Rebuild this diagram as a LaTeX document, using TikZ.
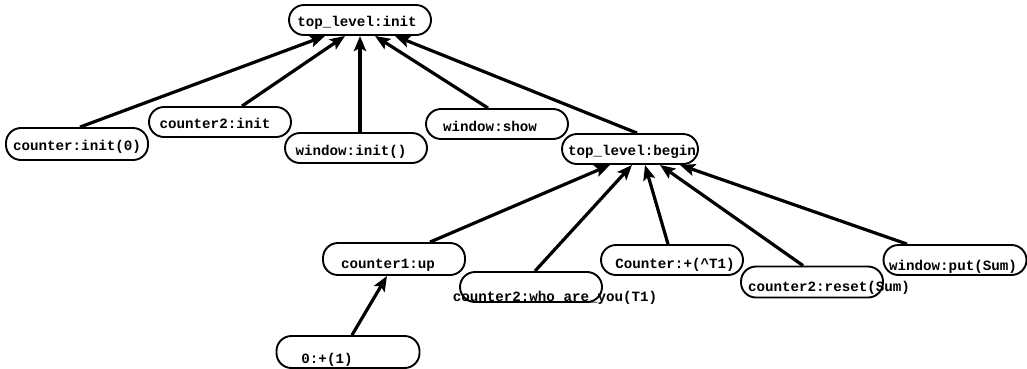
\documentclass[tikz,border=0pt]{standalone}
\usepackage{fontspec}
\newfontfamily\boxfont{Liberation Mono}
\usetikzlibrary{arrows.meta}
\tikzset{
  ovalbox/.style={draw, line width=1.9pt, rounded corners=15pt, minimum width=142pt, minimum height=30pt, inner sep=0pt},
  lbl/.style={inner sep=0pt, text height=10pt, text depth=3pt, font=\boxfont\bfseries\fontsize{14.2}{14}\selectfont},
  edge/.style={line width=3.2pt, -{Stealth[length=15pt,width=12pt,inset=3pt]}}
}
\begin{document}
\begin{tikzpicture}[x=1pt,y=-1pt]
\useasboundingbox (0,0) rectangle (1027,368);
% nodes
\node[ovalbox, label={[lbl,xshift=-3pt,yshift=-3pt]center:top\_level:init}] (tli) at (360,20) {};
\node[ovalbox, minimum height=32pt, label={[lbl,xshift=0pt,yshift=-3pt]center:counter:init(0)}] (ci0) at (77,144) {};
\node[ovalbox, label={[lbl,xshift=-5pt,yshift=-3pt]center:counter2:init}] (c2i) at (220,122) {};
\node[ovalbox, label={[lbl,xshift=-5pt,yshift=-4pt]center:window:init()}] (wi) at (356,148) {};
\node[ovalbox, label={[lbl,xshift=-7pt,yshift=-4pt]center:window:show}] (ws) at (497,124) {};
\node[ovalbox, minimum width=136pt, label={[lbl,xshift=2pt,yshift=-3pt]center:top\_level:begin}] (tlb) at (630,149) {};
\node[ovalbox, minimum height=32pt, label={[lbl,xshift=-6pt,yshift=-6pt]center:counter1:up}] (c1u) at (394,259) {};
\node[ovalbox, label={[lbl,xshift=24pt,yshift=-11pt]center:counter2:who\_are\_you(T1)}] (who) at (531,287) {};
\node[ovalbox, label={[lbl,xshift=3pt,yshift=-5pt]center:Counter:+(\textasciicircum T1)}] (cpt) at (672,260) {};
\node[ovalbox, minimum height=31pt, label={[lbl,xshift=17pt,yshift=-6pt]center:counter2:reset(Sum)}] (rst) at (812,282) {};
\node[ovalbox, minimum width=143pt, label={[lbl,xshift=-2pt,yshift=-7pt]center:window:put(Sum)}] (wp) at (955,260) {};
\node[ovalbox, minimum width=143pt, minimum height=32pt, label={[lbl,xshift=-21pt,yshift=-8pt]center:0:+(1)}] (zero) at (348,352) {};
% edges into top_level:init
\draw[edge] ([xshift=3pt]ci0.north) -- ([xshift=-35pt]tli.south);
\draw[edge] ([xshift=22pt]c2i.north) -- ([xshift=-15pt]tli.south);
\draw[edge] ([xshift=4pt]wi.north) -- ([xshift=0pt]tli.south);
\draw[edge] ([xshift=-9pt]ws.north) -- ([xshift=15pt]tli.south);
\draw[edge] ([xshift=7pt]tlb.north) -- ([xshift=35pt]tli.south);
% edges into top_level:begin
\draw[edge] ([xshift=36pt]c1u.north) -- ([xshift=-20pt]tlb.south);
\draw[edge] ([xshift=4pt]who.north) -- ([xshift=2pt]tlb.south);
\draw[edge] ([xshift=-4pt]cpt.north) -- ([xshift=15pt]tlb.south);
\draw[edge] ([xshift=-9pt]rst.north) -- ([xshift=30pt]tlb.south);
\draw[edge] ([xshift=-48pt]wp.north) -- ([xshift=50pt]tlb.south);
% edge into counter1:up
\draw[edge] ([xshift=4pt]zero.north) -- ([xshift=-7pt]c1u.south);
\end{tikzpicture}
\end{document}
